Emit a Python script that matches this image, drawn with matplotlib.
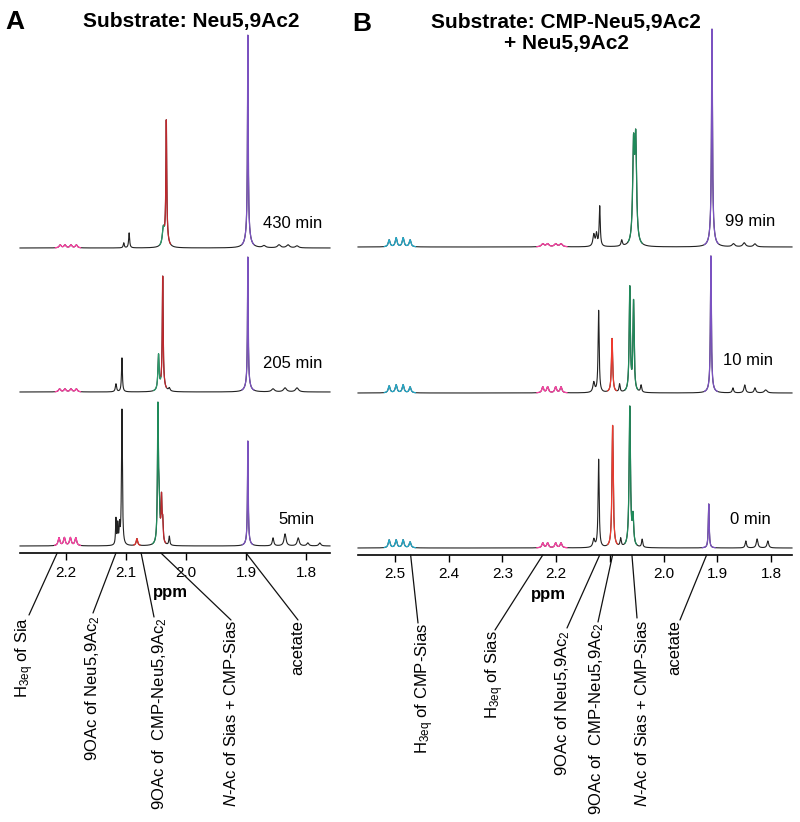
import numpy as np
import matplotlib
matplotlib.use('Agg')
import matplotlib.pyplot as plt
from matplotlib.patches import ConnectionPatch

plt.rcParams['font.family'] = ['Liberation Sans', 'DejaVu Sans']
plt.rcParams['mathtext.fontset'] = 'custom'
plt.rcParams['mathtext.rm'] = 'Liberation Sans'
plt.rcParams['mathtext.it'] = 'Liberation Sans:italic'
plt.rcParams['mathtext.bf'] = 'Liberation Sans:bold'
plt.rcParams['mathtext.default'] = 'regular'

W, H = 800, 822

# ---- data: peaks as (ppm, height, half width) ----
# panel A, substrate Neu5,9Ac2
a_times = ['430 min', '205 min', '5min']
a_offsets = [305, 161, 7]
a_peaks = [
    [(2.210, 3, 0.002), (2.202, 3, 0.002), (2.192, 3, 0.002), (2.183, 3, 0.002),
     (2.104, 5, 0.001), (2.095, 15, 0.001), (2.038, 16, 0.002),
     (2.033, 112, 0.0008), (2.033, 14, 0.003),
     (1.897, 195, 0.0007), (1.897, 18, 0.004),
     (1.870, 2, 0.003), (1.845, 3, 0.003), (1.830, 3, 0.003), (1.815, 2, 0.003)],
    [(2.211, 3, 0.002), (2.202, 3, 0.002), (2.192, 3, 0.002), (2.183, 3, 0.002),
     (2.117, 8, 0.0012), (2.107, 34, 0.0009), (2.046, 35, 0.0012),
     (2.039, 103, 0.0008), (2.039, 12, 0.003), (2.028, 3, 0.0015),
     (1.897, 125, 0.0007), (1.897, 10, 0.004),
     (1.855, 3, 0.003), (1.835, 4, 0.003), (1.815, 4, 0.003)],
    [(2.212, 8, 0.0018), (2.203, 8, 0.0018), (2.193, 8, 0.0018), (2.184, 8, 0.0018),
     (2.117, 26, 0.0008), (2.114, 20, 0.0008), (2.111, 18, 0.0008),
     (2.107, 136, 0.0009), (2.082, 7, 0.0015),
     (2.047, 128, 0.0009), (2.045, 40, 0.0015), (2.041, 42, 0.0009), (2.039, 20, 0.001),
     (2.028, 9, 0.001), (1.897, 98, 0.0007), (1.897, 7, 0.003),
     (1.855, 8, 0.0015), (1.835, 12, 0.002), (1.813, 8, 0.002),
     (1.797, 3, 0.002), (1.777, 3, 0.002)],
]
a_colors = [
    [(2.176, 2.218, '#ff3fa4'), (2.036, 2.044, '#2a9a6a'), (2.026, 2.036, '#c0282d'),
     (1.887, 1.907, '#7b52c1')],
    [(2.176, 2.218, '#ff3fa4'), (2.042, 2.054, '#2a9a6a'), (2.033, 2.042, '#c0282d'),
     (1.887, 1.907, '#7b52c1')],
    [(2.176, 2.219, '#ff3fa4'), (2.077, 2.087, '#e0302a'), (2.043, 2.056, '#1f8a5a'),
     (2.034, 2.043, '#c0282d'), (1.889, 1.906, '#7b52c1')],
]

# panel B, substrate CMP-Neu5,9Ac2 + Neu5,9Ac2
b_times = ['99 min', '10 min', '0 min']
b_offsets = [308, 162, 7]
b_peaks = [
    [(2.511, 7, 0.002), (2.498, 9, 0.002), (2.485, 9, 0.002), (2.472, 7, 0.002),
     (2.225, 3, 0.003), (2.216, 3, 0.003), (2.201, 3, 0.003), (2.191, 3, 0.003),
     (2.130, 12, 0.002), (2.125, 12, 0.0015), (2.119, 40, 0.0012),
     (2.078, 6, 0.0015), (2.056, 95, 0.0019), (2.052, 100, 0.0019),
     (1.910, 200, 0.001), (1.910, 18, 0.004),
     (1.870, 3, 0.003), (1.850, 4, 0.003), (1.830, 3, 0.003)],
    [(2.511, 7, 0.002), (2.498, 8, 0.002), (2.485, 8, 0.002), (2.472, 6, 0.002),
     (2.225, 6, 0.002), (2.216, 6, 0.002), (2.201, 6, 0.002), (2.191, 6, 0.002),
     (2.130, 10, 0.002), (2.121, 82, 0.0012), (2.096, 54, 0.0014),
     (2.082, 8, 0.0012), (2.063, 104, 0.0013), (2.056, 90, 0.0013),
     (2.042, 7, 0.0013), (1.912, 130, 0.001), (1.912, 7, 0.004),
     (1.871, 5, 0.0015), (1.849, 8, 0.0018), (1.830, 5, 0.0018), (1.810, 3, 0.003)],
    [(2.511, 8, 0.002), (2.498, 8, 0.002), (2.485, 8, 0.002), (2.472, 6, 0.002),
     (2.225, 5, 0.002), (2.216, 5, 0.002), (2.201, 5, 0.002), (2.191, 5, 0.002),
     (2.130, 8, 0.002), (2.121, 88, 0.0012), (2.095, 122, 0.0014),
     (2.080, 8, 0.0013), (2.063, 140, 0.0015), (2.057, 28, 0.0015),
     (2.040, 8, 0.0013), (1.916, 44, 0.001),
     (1.847, 7, 0.0015), (1.826, 9, 0.0018), (1.806, 7, 0.0018)],
]
b_colors = [
    [(2.462, 2.520, '#23a8c8'), (2.180, 2.236, '#ff3fa4'), (2.040, 2.066, '#1f8a5a'),
     (1.898, 1.924, '#7b52c1')],
    [(2.462, 2.520, '#23a8c8'), (2.180, 2.236, '#ff3fa4'), (2.088, 2.104, '#ee3a2e'),
     (2.048, 2.072, '#1f8a5a'), (1.900, 1.924, '#7b52c1')],
    [(2.462, 2.520, '#23a8c8'), (2.180, 2.236, '#ff3fa4'), (2.086, 2.104, '#ee3a2e'),
     (2.050, 2.072, '#1f8a5a'), (1.904, 1.928, '#7b52c1')],
]

a_ticks = [2.2, 2.1, 2.0, 1.9, 1.8]
a_ticklabels = ['2.2', '2.1', '2.0', '1.9', '1.8']
b_ticks = [2.5, 2.4, 2.3, 2.2, 2.1, 2.0, 1.9, 1.8]
b_ticklabels = ['2.5', '2.4', '2.3', '2.2', '', '2.0', '1.9', '1.8']

# annotations: (label, ppm on axis, text x px, text top y px, line end x px, line end y px)
a_notes = [
    ('H$_{3eq}$ of Sia', 2.215, 25, 617, 29, 615),
    ('9OAc of Neu5,9Ac$_2$', 2.117, 93, 615, 93, 613),
    ('9OAc of  CMP-Neu5,9Ac$_2$', 2.075, 160, 617, 154, 617),
    ('$\\mathit{N}$-Ac of Sias + CMP-Sias', 2.042, 231, 620, 231, 620),
    ('acetate', 1.900, 298, 620, 298, 620),
]
b_notes = [
    ('H$_{3eq}$ of CMP-Sias', 2.471, 425, 623, 418, 623),
    ('H$_{3eq}$ of Sias', 2.225, 495, 630, 495, 630),
    ('9OAc of Neu5,9Ac$_2$', 2.119, 563, 630, 567, 628),
    ('9OAc of  CMP-Neu5,9Ac$_2$', 2.095, 597, 622, 598, 622),
    ('$\\mathit{N}$-Ac of Sias + CMP-Sias', 2.059, 642, 620, 637, 618),
    ('acetate', 1.920, 675, 620, 680, 620),
]


def fx(x):
    return x / W


def fy(y):
    return 1 - y / H


def spectrum(ppm, peaks):
    y = np.zeros_like(ppm)
    for p0, h, g in peaks:
        y += h * g ** 2 / ((ppm - p0) ** 2 + g ** 2)
    return y


def panel(left, right, bottom, xlim, ticks, ticklabels, offsets, peaks, colors, times,
          tpos, notes, ppm_xy):
    ax = fig.add_axes([fx(left), fy(bottom), fx(right - left), (bottom - 25) / H])
    ax.set_xlim(xlim)
    ax.set_ylim(0, bottom - 25)
    ppm = np.linspace(xlim[0], xlim[1], 6000)
    for off, pk, cols in zip(offsets, peaks, colors):
        y = spectrum(ppm, pk) + off
        ax.plot(ppm, y, color='#222222', lw=0.8, clip_on=False)
        for lo, hi, c in cols:
            m = (ppm >= lo) & (ppm <= hi)
            ax.plot(ppm[m], y[m], color=c, lw=0.9, clip_on=False)
    for t, (x, y) in zip(times, tpos):
        fig.text(fx(x), fy(y), t, fontsize=12, ha='left', va='center')
    for s in ['top', 'left', 'right']:
        ax.spines[s].set_visible(False)
    ax.spines['bottom'].set_linewidth(1.2)
    ax.set_yticks([])
    ax.set_xticks(ticks)
    ax.set_xticklabels(ticklabels, fontsize=11)
    ax.tick_params(axis='x', direction='out', length=5, width=1, pad=4)
    fig.text(fx(ppm_xy[0]), fy(ppm_xy[1]), 'ppm', fontsize=12, fontweight='bold',
             ha='center', va='center')
    for lab, p, tx, ty, lx, ly in notes:
        con = ConnectionPatch(xyA=(p, 0), coordsA=ax.transData,
                              xyB=(fx(lx), fy(ly)), coordsB=fig.transFigure,
                              color='#111111', lw=0.9)
        fig.add_artist(con)
        fig.text(fx(tx), fy(ty), lab, rotation=90, fontsize=12, ha='center', va='top')
    return ax


fig = plt.figure(figsize=(8, 8.22), dpi=100)

panel(20, 330, 553, (2.277, 1.76), a_ticks, a_ticklabels, a_offsets, a_peaks,
      a_colors, a_times, [(263, 223), (263, 363), (278, 519)], a_notes, (170, 592))
panel(358, 792, 555, (2.569, 1.761), b_ticks, b_ticklabels, b_offsets,
      b_peaks, b_colors, b_times, [(725, 221), (723, 360), (730, 519)], b_notes, (548, 595))

fig.text(fx(15), fy(22), 'A', fontsize=19, fontweight='bold', ha='center', va='center')
fig.text(fx(362), fy(24), 'B', fontsize=19, fontweight='bold', ha='center', va='center')
fig.text(fx(191), fy(22), 'Substrate: Neu5,9Ac2', fontsize=15, fontweight='bold',
         ha='center', va='center')
fig.text(fx(566), fy(33), 'Substrate: CMP-Neu5,9Ac2\n+ Neu5,9Ac2', fontsize=15,
         fontweight='bold', ha='center', va='center', linespacing=1.1)

fig.savefig('out.png', dpi=100)
